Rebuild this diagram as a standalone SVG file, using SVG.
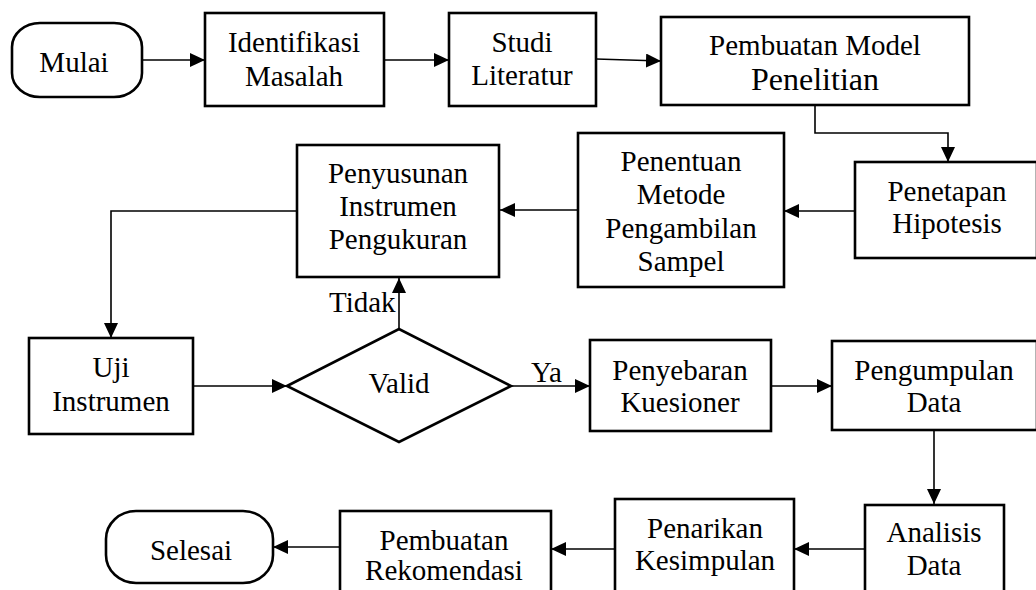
<svg xmlns="http://www.w3.org/2000/svg" width="1036" height="590" viewBox="0 0 1036 590">
  <style>
    .box { fill: #ffffff; stroke: #000000; stroke-width: 2.6; }
    .conn { fill: none; stroke: #000000; stroke-width: 1.6; }
    text { font-family: 'Liberation Serif', 'Tinos', 'DejaVu Serif', serif; font-size: 29px; fill: #000000; }
    .c { text-anchor: middle; }
  </style>
  <defs>
    <marker id="arrow" markerUnits="userSpaceOnUse" markerWidth="16" markerHeight="14" refX="15" refY="7" orient="auto">
      <path d="M0,0 L15,7 L0,14 Z" fill="#000000"/>
    </marker>
  </defs>

  <rect width="1036" height="590" fill="#ffffff"/>

  <!-- connectors -->
  <g id="connectors">
    <line class="conn" x1="142" y1="60" x2="205" y2="60" marker-end="url(#arrow)"/>
    <line class="conn" x1="384" y1="60" x2="449" y2="60" marker-end="url(#arrow)"/>
    <line class="conn" x1="596" y1="59" x2="661" y2="61" marker-end="url(#arrow)"/>
    <path class="conn" d="M815,105 V133 H948 V162" marker-end="url(#arrow)"/>
    <line class="conn" x1="855" y1="211" x2="784" y2="211" marker-end="url(#arrow)"/>
    <line class="conn" x1="578" y1="210" x2="500" y2="210" marker-end="url(#arrow)"/>
    <path class="conn" d="M297,211 H111 V338" marker-end="url(#arrow)"/>
    <line class="conn" x1="193" y1="386" x2="287" y2="386" marker-end="url(#arrow)"/>
    <line class="conn" x1="399" y1="329" x2="399" y2="278" marker-end="url(#arrow)"/>
    <line class="conn" x1="511" y1="386" x2="590" y2="386" marker-end="url(#arrow)"/>
    <line class="conn" x1="771" y1="386" x2="832" y2="386" marker-end="url(#arrow)"/>
    <line class="conn" x1="934" y1="430" x2="934" y2="504" marker-end="url(#arrow)"/>
    <line class="conn" x1="865" y1="549" x2="794" y2="549" marker-end="url(#arrow)"/>
    <line class="conn" x1="615" y1="549" x2="551" y2="549" marker-end="url(#arrow)"/>
    <line class="conn" x1="340" y1="547" x2="273" y2="547" marker-end="url(#arrow)"/>
    <text x="329" y="312">Tidak</text>
    <text x="531" y="382">Ya</text>
  </g>

  <g id="mulai">
    <rect class="box" x="12" y="23" width="130" height="74" rx="28" ry="24"/>
    <text class="c" x="74" y="72">Mulai</text>
  </g>

  <g id="identifikasi-masalah">
    <rect class="box" x="205" y="13" width="179" height="93"/>
    <text class="c" x="294" y="52">Identifikasi</text>
    <text class="c" x="294" y="86">Masalah</text>
  </g>

  <g id="studi-literatur">
    <rect class="box" x="449" y="13" width="147" height="93"/>
    <text class="c" x="522" y="52">Studi</text>
    <text class="c" x="522" y="85">Literatur</text>
  </g>

  <g id="pembuatan-model">
    <rect class="box" x="661" y="17" width="308" height="88"/>
    <text class="c" x="815" y="55">Pembuatan Model</text>
    <text class="c" x="815" y="90" style="font-size:32px">Penelitian</text>
  </g>

  <g id="penetapan-hipotesis">
    <rect class="box" x="855" y="162" width="182" height="96"/>
    <text class="c" x="947" y="201">Penetapan</text>
    <text class="c" x="947" y="233">Hipotesis</text>
  </g>

  <g id="penentuan-metode">
    <rect class="box" x="578" y="133" width="206" height="154"/>
    <text class="c" x="681" y="171">Penentuan</text>
    <text class="c" x="681" y="204">Metode</text>
    <text class="c" x="681" y="238">Pengambilan</text>
    <text class="c" x="681" y="271">Sampel</text>
  </g>

  <g id="penyusunan-instrumen">
    <rect class="box" x="297" y="145" width="202" height="132"/>
    <text class="c" x="398" y="183">Penyusunan</text>
    <text class="c" x="398" y="216">Instrumen</text>
    <text class="c" x="398" y="249">Pengukuran</text>
  </g>

  <g id="uji-instrumen">
    <rect class="box" x="29" y="338" width="164" height="96"/>
    <text class="c" x="111" y="377">Uji</text>
    <text class="c" x="111" y="411">Instrumen</text>
  </g>

  <g id="valid">
    <polygon class="box" points="287,386 399,329 511,386 399,442"/>
    <text class="c" x="399" y="393">Valid</text>
  </g>

  <g id="penyebaran-kuesioner">
    <rect class="box" x="590" y="340" width="181" height="91"/>
    <text class="c" x="680" y="380">Penyebaran</text>
    <text class="c" x="680" y="412">Kuesioner</text>
  </g>

  <g id="pengumpulan-data">
    <rect class="box" x="832" y="341" width="205" height="89"/>
    <text class="c" x="934" y="380">Pengumpulan</text>
    <text class="c" x="934" y="412">Data</text>
  </g>

  <g id="analisis-data">
    <rect class="box" x="865" y="505" width="139" height="100"/>
    <text class="c" x="934" y="542">Analisis</text>
    <text class="c" x="934" y="575">Data</text>
  </g>

  <g id="penarikan-kesimpulan">
    <rect class="box" x="615" y="499" width="179" height="106"/>
    <text class="c" x="705" y="538">Penarikan</text>
    <text class="c" x="705" y="570">Kesimpulan</text>
  </g>

  <g id="pembuatan-rekomendasi">
    <rect class="box" x="340" y="511" width="211" height="94"/>
    <text class="c" x="444" y="550">Pembuatan</text>
    <text class="c" x="444" y="580">Rekomendasi</text>
  </g>

  <g id="selesai">
    <rect class="box" x="106" y="511" width="167" height="72" rx="30" ry="28"/>
    <text class="c" x="191" y="560">Selesai</text>
  </g>
</svg>
